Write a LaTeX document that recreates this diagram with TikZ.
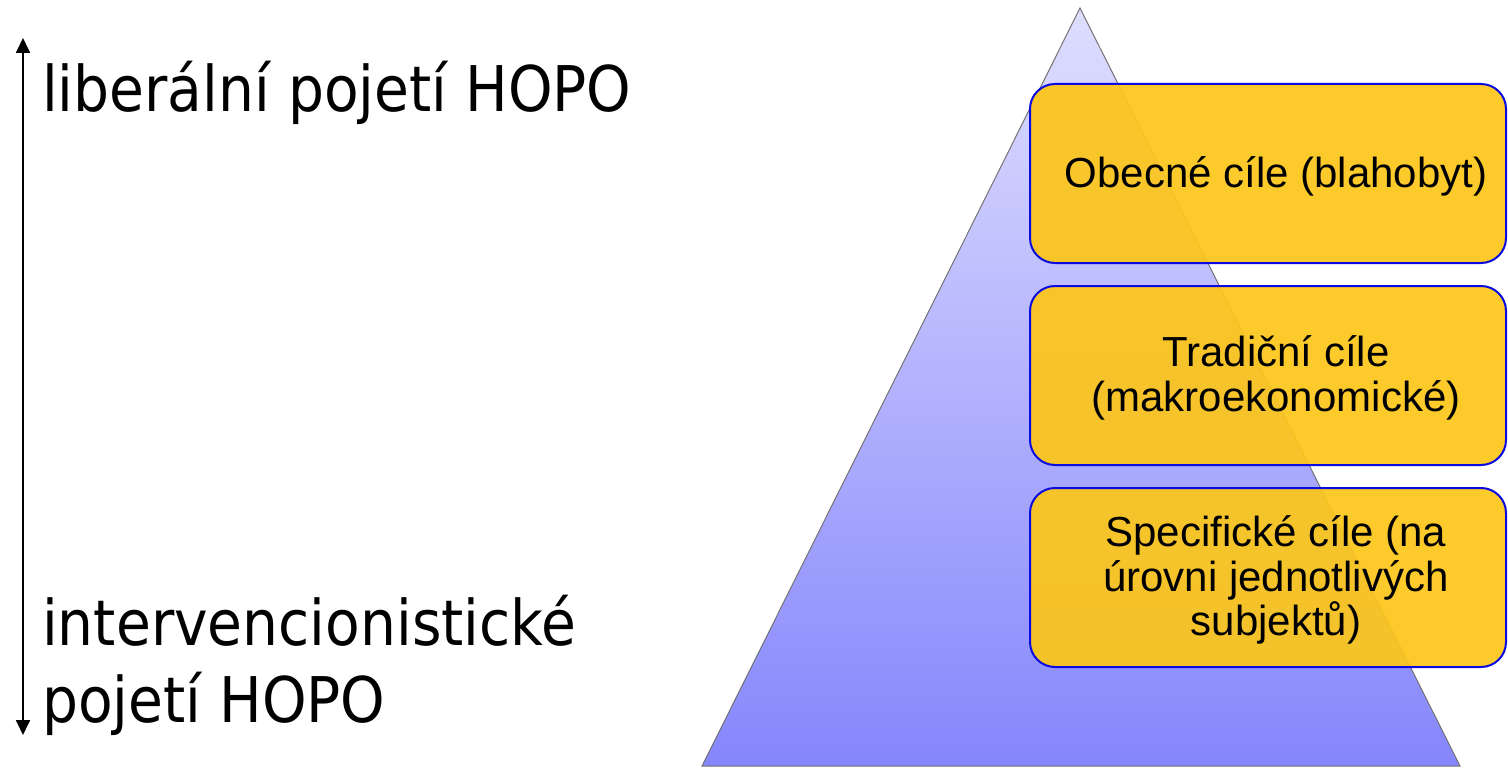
\documentclass[tikz,border=0pt]{standalone}
\usepackage{fontspec}
\usetikzlibrary{arrows.meta}
\setmainfont{Liberation Sans}
\newfontfamily\leftfont[FakeStretch=0.9]{DejaVu Sans}
\definecolor{boxfill}{RGB}{252,198,26}
\definecolor{boxline}{RGB}{10,10,225}
\definecolor{tritop}{RGB}{222,222,255}
\definecolor{tribot}{RGB}{134,134,252}
\tikzset{
  goalbox/.style={draw=boxline, line width=2pt, fill=boxfill, fill opacity=0.93,
    rounded corners=25pt, minimum width=476pt, minimum height=179pt, inner sep=0pt},
  goaltext/.style={inner sep=0pt, align=center, font=\fontsize{42}{44.5}\selectfont},
  sidetext/.style={anchor=base west, inner sep=0pt, align=left, font=\leftfont\fontsize{63}{77}\selectfont},
  axis/.style={line width=1.8pt, >={Triangle[length=15pt,width=14pt]}, <->}
}
\begin{document}
\begin{tikzpicture}[x=1pt,y=-1pt]
\useasboundingbox (0,0) rectangle (1508,768);
% pyramid
\coordinate (apex) at (1080,8);
\coordinate (bl) at (702,766);
\coordinate (br) at (1460,766);
\shade[top color=tritop, bottom color=tribot, draw=black!55, line width=1pt] (apex) -- (br) -- (bl) -- cycle;
% boxes
\node[goalbox] (g1) at (1268,173.5) {};
\node[goalbox] (g2) at (1268,375.5) {};
\node[goalbox] (g3) at (1268,577.5) {};
\node[goaltext] (g1t) at (1276,176) {Obecné cíle (blahobyt)};
\node[goaltext] (g2t) at (1276,378) {Tradiční cíle\\(makroekonomické)};
\node[goaltext] (g3t) at (1276,580) {Specifické cíle (na\\úrovni jednotlivých\\subjektů)};
% left axis
\coordinate (atop) at (23,38);
\coordinate (abot) at (23,735);
\draw[axis] (abot) -- (atop);
\node[sidetext] (lib) at (42,111) {liberální pojetí HOPO};
\node[sidetext] (int) at (42,722) {intervencionistické\\pojetí HOPO};
\end{tikzpicture}
\end{document}
